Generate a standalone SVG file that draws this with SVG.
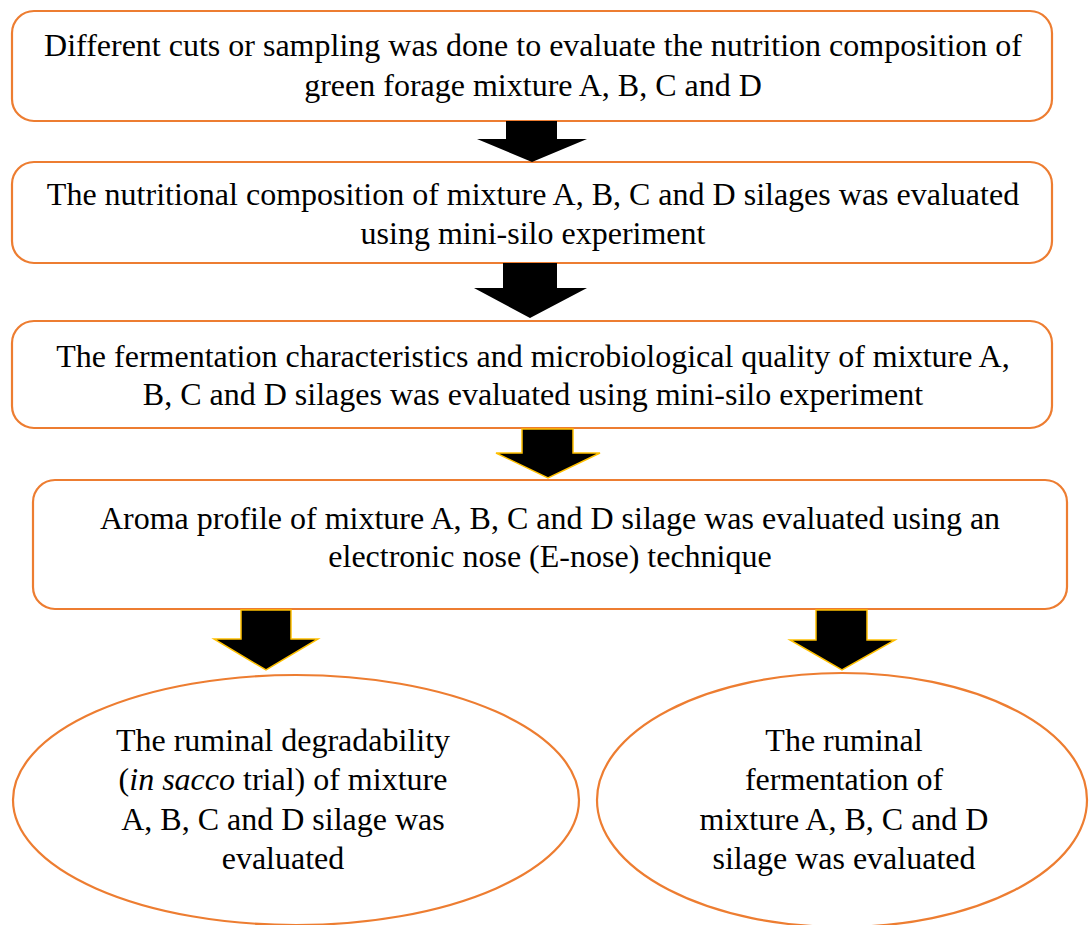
<svg xmlns="http://www.w3.org/2000/svg" width="1092" height="925" viewBox="0 0 1092 925">
<style>
.box{fill:#fff;stroke:#ED7D31;stroke-width:2.2}
.t{font-family:"Liberation Serif","Times New Roman",serif;font-size:32px;fill:#000;text-anchor:middle}
.a1{fill:#000}
.a2{fill:#000;stroke:#FFC000;stroke-width:1.5}
</style>
<rect width="1092" height="925" fill="#fff"/>
<g id="n1"><rect class="box" x="12" y="11" width="1040" height="110" rx="22"/>
<text class="t" x="533" y="56">Different cuts or sampling was done to evaluate the nutrition composition of</text>
<text class="t" x="533" y="96">green forage mixture A, B, C and D</text></g>
<g id="n2"><rect class="box" x="12" y="162" width="1040" height="101" rx="22"/>
<text class="t" x="533" y="205">The nutritional composition of mixture A, B, C and D silages was evaluated</text>
<text class="t" x="533" y="244">using mini-silo experiment</text></g>
<g id="n3"><rect class="box" x="12" y="321" width="1040" height="107" rx="22"/>
<text class="t" x="533" y="367">The fermentation characteristics and microbiological quality of mixture A,</text>
<text class="t" x="533" y="405">B, C and D silages was evaluated using mini-silo experiment</text></g>
<g id="n4"><rect class="box" x="33" y="480" width="1034" height="129" rx="22"/>
<text class="t" x="550" y="529">Aroma profile of mixture A, B, C and D silage was evaluated using an</text>
<text class="t" x="550" y="567">electronic nose (E-nose) technique</text></g>
<g id="n5"><ellipse class="box" cx="296" cy="800" rx="283" ry="125"/>
<text class="t" x="283" y="751">The ruminal degradability</text>
<text class="t" x="283" y="790">(<tspan font-style="italic">in sacco</tspan> trial) of mixture</text>
<text class="t" x="283" y="830">A, B, C and D silage was</text>
<text class="t" x="283" y="869">evaluated</text></g>
<g id="n6"><ellipse class="box" cx="842" cy="800" rx="245" ry="127"/>
<text class="t" x="844" y="751">The ruminal</text>
<text class="t" x="844" y="790">fermentation of</text>
<text class="t" x="844" y="830">mixture A, B, C and D</text>
<text class="t" x="844" y="869">silage was evaluated</text></g>
<g id="connectors">
<polygon class="a1" points="506,121 557,121 557,139 587,139 532,162 477,139 506,139"/>
<polygon class="a1" points="503,263 557,263 557,288 587,288 530,318 474,288 503,288"/>
<polygon class="a2" points="522,429 573,429 573,453 600,453 548,478 496,453 522,453"/>
<polygon class="a2" points="241,610 291,610 291,639 318,639 266,670 214,639 241,639"/>
<polygon class="a2" points="816,610 867,610 867,640 895,640 842,670 790,640 816,640"/>
</g>
</svg>
